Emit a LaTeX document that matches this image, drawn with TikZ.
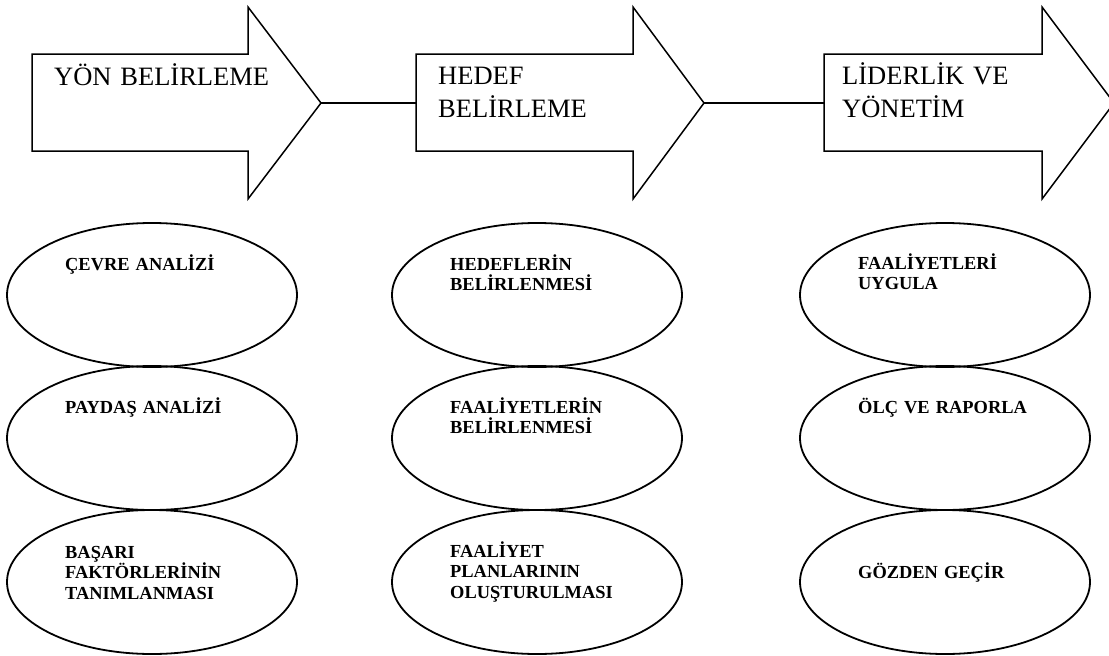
\documentclass[tikz,border=0pt]{standalone}
\usepackage{fontspec}
\setmainfont{Liberation Serif}
\usetikzlibrary{shapes.geometric}
\begin{document}
\begin{tikzpicture}[x=1pt,y=-1pt,
  outline/.style={draw=black, line width=1.5pt, line join=miter},
  link/.style={draw=black, line width=1.5pt},
  phase/.style={anchor=base west, inner sep=0pt, text width=260pt, align=left,
    font=\fontsize{26.5}{33}\selectfont},
  task/.style={draw=black, line width=1.8pt, ellipse, minimum width=290pt,
    minimum height=144pt, inner sep=0pt},
  tasktext/.style={anchor=base west, inner sep=0pt, text width=220pt, align=left,
    font=\fontsize{18.4}{20.7}\selectfont\bfseries}]

\useasboundingbox (0,0) rectangle (1109,656);
\clip (0,0) rectangle (1109,656);

% block arrows: tail x / head base x / tip x / index
\foreach \t/\b/\a/\n in {32/248/321/1, 416/633/704/2, 824/1042/1114/3} {
  \draw[outline] (\t,54) -- (\b,54) -- (\b,7) -- (\a,103) -- (\b,199)
    -- (\b,151) -- (\t,151) -- cycle;
  \coordinate (tail\n) at (\t,103);
  \coordinate (tip\n) at (\a,103);
}

% links between the arrows
\draw[link] (tip1) -- (tail2);
\draw[link] (tip2) -- (tail3);

% arrow captions
\node[phase] (p1) at (54,85) {YÖN BELİRLEME};
\node[phase] (p2) at (438,84) {HEDEF\\BELİRLEME};
\node[phase] (p3) at (842,84) {LİDERLİK VE\\YÖNETİM};

% task ellipses
\node[task] (a1) at (152,295) {};
\node[task] (a2) at (152,438) {};
\node[task] (a3) at (152,582) {};
\node[task] (b1) at (537,295) {};
\node[task] (b2) at (537,438) {};
\node[task] (b3) at (537,582) {};
\node[task] (c1) at (945,295) {};
\node[task] (c2) at (945,438) {};
\node[task] (c3) at (945,582) {};

% task labels
\node[tasktext] (ta1) at (65,270) {ÇEVRE ANALİZİ};
\node[tasktext] (ta2) at (65,413) {PAYDAŞ ANALİZİ};
\node[tasktext] (ta3) at (65,558) {BAŞARI\\FAKTÖRLERİNİN\\TANIMLANMASI};
\node[tasktext] (tb1) at (450,270) {HEDEFLERİN\\BELİRLENMESİ};
\node[tasktext] (tb2) at (450,413) {FAALİYETLERİN\\BELİRLENMESİ};
\node[tasktext] (tb3) at (450,557) {FAALİYET\\PLANLARININ\\OLUŞTURULMASI};
\node[tasktext] (tc1) at (858,269) {FAALİYETLERİ\\UYGULA};
\node[tasktext] (tc2) at (858,413) {ÖLÇ VE RAPORLA};
\node[tasktext] (tc3) at (858,578) {GÖZDEN GEÇİR};

\end{tikzpicture}
\end{document}
